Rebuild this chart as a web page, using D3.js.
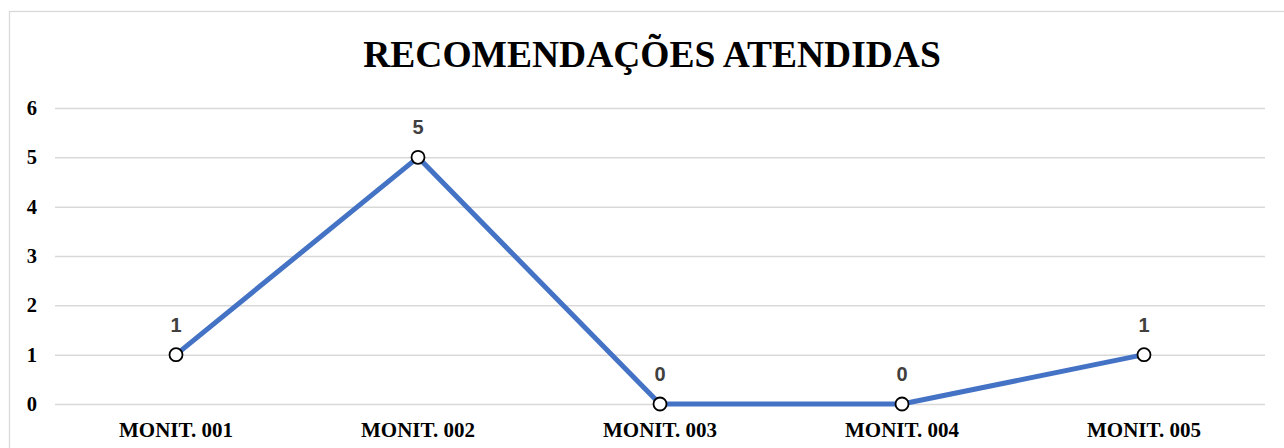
<!DOCTYPE html>
<html>
<head>
<meta charset="utf-8">
<script src="https://cdn.jsdelivr.net/npm/d3@7"></script>
<style>
  body { margin: 0; background: #fff; }
  .tick text { font-family: "Liberation Serif", "Times New Roman", serif; font-weight: bold; }
</style>
</head>
<body>
<div id="chart"></div>
<script>
// chart data
var categories = ["MONIT. 001", "MONIT. 002", "MONIT. 003", "MONIT. 004", "MONIT. 005"];
var values = [1, 5, 0, 0, 1];
var yTicks = [0, 1, 2, 3, 4, 5, 6];
var title = "RECOMENDAÇÕES ATENDIDAS";

var svgWidth = 1284;
var svgHeight = 448;

var margin = { top: 108, right: 19, bottom: 44, left: 55 };
var width = svgWidth - margin.left - margin.right;
var height = svgHeight - margin.top - margin.bottom;

var svg = d3.select("#chart")
  .append("svg")
  .attr("width", svgWidth)
  .attr("height", svgHeight);

// outer frame
svg.append("rect")
  .attr("x", 9.5)
  .attr("y", 11.5)
  .attr("width", svgWidth)
  .attr("height", svgHeight)
  .attr("fill", "#fff")
  .attr("stroke", "#d9d9d9")
  .attr("stroke-width", 1.3);

svg.append("text")
  .attr("x", 652)
  .attr("y", 67)
  .attr("text-anchor", "middle")
  .style("font-family", "'Liberation Serif', 'Times New Roman', serif")
  .style("font-weight", "bold")
  .style("font-size", "37.5px")
  .style("fill", "#000")
  .text(title);

var chartGroup = svg.append("g")
  .attr("transform", `translate(${margin.left}, ${margin.top})`);

var xScale = d3.scaleBand().domain(categories).range([0, width]);
var yScale = d3.scaleLinear().domain([0, 6]).range([height, 0]);

// gridlines
chartGroup.append("g")
  .call(d3.axisLeft(yScale).tickValues(yTicks).tickSize(-width).tickFormat(""))
  .call(g => g.select(".domain").remove())
  .call(g => g.selectAll(".tick line").attr("stroke", "#d9d9d9").attr("stroke-width", 1.5));

// y labels
chartGroup.append("g")
  .call(d3.axisLeft(yScale).tickValues(yTicks).tickSize(0).tickPadding(18).tickFormat(d3.format("d")))
  .call(g => g.select(".domain").remove())
  .call(g => g.selectAll(".tick text").style("font-size", "20.5px").attr("fill", "#000"));

// x labels
chartGroup.append("g")
  .attr("transform", `translate(0, ${height})`)
  .call(d3.axisBottom(xScale).tickSize(0).tickPadding(18.5))
  .call(g => g.select(".domain").remove())
  .call(g => g.selectAll(".tick text").style("font-size", "21px").attr("fill", "#000"));

var cx = d => xScale(d.cat) + xScale.bandwidth() / 2;
var pts = categories.map((c, i) => ({ cat: c, val: values[i] }));

var line = d3.line().x(cx).y(d => yScale(d.val));

chartGroup.append("path")
  .datum(pts)
  .attr("d", line)
  .attr("fill", "none")
  .attr("stroke", "#4472c4")
  .attr("stroke-width", 5)
  .attr("stroke-linejoin", "round");

chartGroup.selectAll("circle")
  .data(pts)
  .enter()
  .append("circle")
  .attr("cx", cx)
  .attr("cy", d => yScale(d.val))
  .attr("r", 6.5)
  .attr("fill", "#fff")
  .attr("stroke", "#000")
  .attr("stroke-width", 1.8);

chartGroup.selectAll(".dlabel")
  .data(pts)
  .enter()
  .append("text")
  .attr("class", "dlabel")
  .attr("x", cx)
  .attr("y", d => yScale(d.val) - 23)
  .attr("text-anchor", "middle")
  .style("font-family", "'Liberation Sans', Arial, sans-serif")
  .style("font-weight", "bold")
  .style("font-size", "20px")
  .style("fill", "#404040")
  .text(d => d.val);
</script>
</body>
</html>
